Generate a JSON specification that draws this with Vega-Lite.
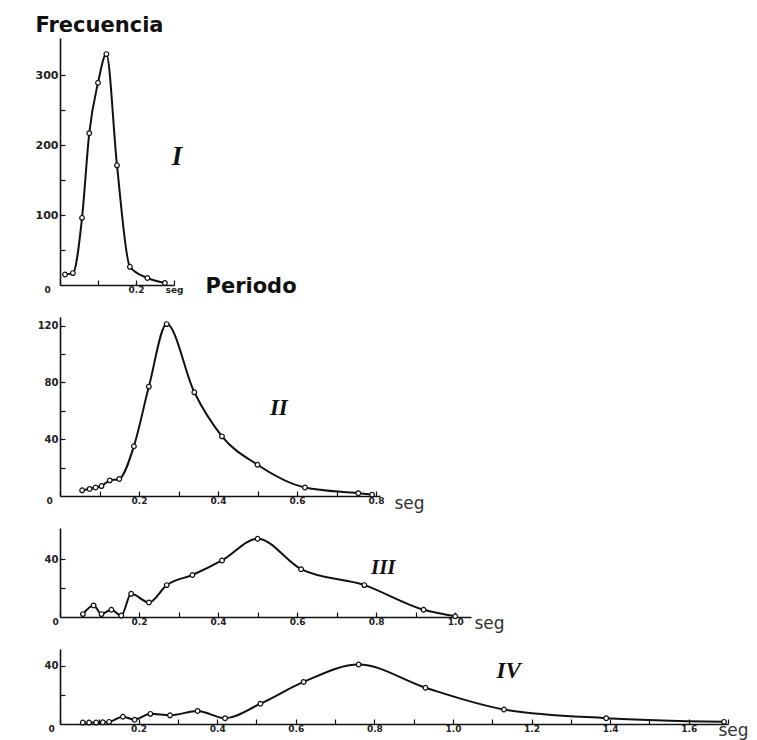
{
  "$schema": "https://vega.github.io/schema/vega-lite/v6.json",
  "background": "white",
  "padding": {"left": 35, "top": 14, "right": 5, "bottom": 5},
  "spacing": 32,
  "bounds": "flush",
  "config": {
    "view": {"stroke": null},
    "axis": {
      "grid": false,
      "tickCount": 100,
      "domainColor": "#111",
      "domainWidth": 1.6,
      "tickColor": "#111",
      "tickWidth": 1.2,
      "tickSize": -5,
      "labelFont": "DejaVu Sans",
      "labelFontWeight": "bold",
      "labelFontSize": 10,
      "labelColor": "#222",
      "labelFlush": false,
      "labelOverlap": false,
      "labelSeparation": 0,
      "labelBound": false,
      "titleFont": "DejaVu Sans",
      "titleColor": "#111"
    },
    "axisX": {"labelPadding": 5, "labelFontSize": 9},
    "axisY": {"labelPadding": 7}
  },
  "vconcat": [
    {
      "width": 114,
      "height": 247,
      "layer": [
        {
          "data": {"values": [
            {"periodo": 0.013, "frecuencia": 15},
            {"periodo": 0.034, "frecuencia": 17},
            {"periodo": 0.058, "frecuencia": 96},
            {"periodo": 0.077, "frecuencia": 217},
            {"periodo": 0.1, "frecuencia": 289},
            {"periodo": 0.122, "frecuencia": 330},
            {"periodo": 0.15, "frecuencia": 171},
            {"periodo": 0.184, "frecuencia": 26},
            {"periodo": 0.23, "frecuencia": 10},
            {"periodo": 0.276, "frecuencia": 3}
          ]},
          "layer": [
            {
              "mark": {"type": "line", "interpolate": "monotone", "color": "#111", "strokeWidth": 2},
              "encoding": {
                "x": {"field": "periodo", "type": "quantitative", "scale": {"domain": [0, 0.3], "nice": false, "zero": false},
                  "axis": {"values": [0, 0.1, 0.2, 0.3], "tickCount": 100,
                    "labelExpr": "datum.value == 0 ? '0' : datum.value > 0.29 ? 'seg' : (datum.value > 0.15 ? '0.2' : '')",
                    "labelOffset": {"condition": {"test": "datum.value == 0", "value": -13}, "value": 0},
                    "title": "Periodo", "titleAngle": 0, "titleX": 145, "titleY": 1, "titleAlign": "left", "titleBaseline": "middle",
                    "titleFontSize": 21, "titleFontWeight": "bold"}},
                "y": {"field": "frecuencia", "type": "quantitative", "scale": {"domain": [0, 353], "nice": false, "zero": false},
                  "axis": {"values": [50, 100, 150, 200, 250, 300], "tickCount": 100, "labelFontSize": 11,
                    "labelExpr": "datum.value == 100 ? '100' : datum.value == 200 ? '200' : datum.value == 300 ? '300' : ''",
                    "title": "Frecuencia", "titleAngle": 0, "titleX": -25, "titleY": -13, "titleAlign": "left", "titleBaseline": "middle",
                    "titleFontSize": 21, "titleFontWeight": "bold"}}
              }
            },
            {
              "mark": {"type": "point", "shape": "circle", "filled": true, "fill": "white", "stroke": "#111", "strokeWidth": 1.2, "size": 22, "opacity": 1},
              "encoding": {
                "x": {"field": "periodo", "type": "quantitative"},
                "y": {"field": "frecuencia", "type": "quantitative"}
              }
            }
          ]
        },
        {
          "data": {"values": [{"periodo": 0.308, "frecuencia": 183, "etiqueta": "I"}]},
          "mark": {"type": "text", "font": "Liberation Serif", "fontStyle": "italic", "fontWeight": "bold", "fontSize": 27, "color": "#111"},
          "encoding": {
            "x": {"field": "periodo", "type": "quantitative"},
            "y": {"field": "frecuencia", "type": "quantitative"},
            "text": {"field": "etiqueta"}
          }
        }
      ]
    },
    {
      "width": 320,
      "height": 179,
      "layer": [
        {
          "data": {"values": [
            {"periodo": 0.056, "frecuencia": 4},
            {"periodo": 0.075, "frecuencia": 5},
            {"periodo": 0.09, "frecuencia": 6},
            {"periodo": 0.105, "frecuencia": 7},
            {"periodo": 0.126, "frecuencia": 11},
            {"periodo": 0.15, "frecuencia": 12},
            {"periodo": 0.187, "frecuencia": 35},
            {"periodo": 0.225, "frecuencia": 77},
            {"periodo": 0.27, "frecuencia": 121},
            {"periodo": 0.34, "frecuencia": 73},
            {"periodo": 0.41, "frecuencia": 42},
            {"periodo": 0.5, "frecuencia": 22},
            {"periodo": 0.62, "frecuencia": 6},
            {"periodo": 0.755, "frecuencia": 2},
            {"periodo": 0.79, "frecuencia": 1}
          ]},
          "layer": [
            {
              "mark": {"type": "line", "interpolate": "monotone", "color": "#111", "strokeWidth": 2},
              "encoding": {
                "x": {"field": "periodo", "type": "quantitative", "scale": {"domain": [0, 0.81], "nice": false, "zero": false},
                  "axis": {"values": [0, 0.1, 0.2, 0.3, 0.4, 0.5, 0.6, 0.7, 0.8], "tickCount": 100,
                    "labelExpr": "datum.value == 0 ? '0' : (round(datum.value * 10) % 2 == 0 ? format(datum.value, '.1f') : '')",
                    "labelOffset": {"condition": {"test": "datum.value == 0", "value": -11}, "value": 0},
                    "title": "seg", "titleAngle": 0, "titleX": 334, "titleY": 7, "titleAlign": "left", "titleBaseline": "middle",
                    "titleFontSize": 17, "titleFontWeight": "normal", "titleColor": "#333"}},
                "y": {"field": "frecuencia", "type": "quantitative", "scale": {"domain": [0, 126], "nice": false, "zero": false},
                  "axis": {"values": [20, 40, 60, 80, 100, 120], "tickCount": 100,
                    "labelExpr": "datum.value == 40 ? '40' : datum.value == 80 ? '80' : datum.value == 120 ? '120' : ''",
                    "title": null}}
              }
            },
            {
              "mark": {"type": "point", "shape": "circle", "filled": true, "fill": "white", "stroke": "#111", "strokeWidth": 1.2, "size": 22, "opacity": 1},
              "encoding": {
                "x": {"field": "periodo", "type": "quantitative"},
                "y": {"field": "frecuencia", "type": "quantitative"}
              }
            }
          ]
        },
        {
          "data": {"values": [{"periodo": 0.554, "frecuencia": 62, "etiqueta": "II"}]},
          "mark": {"type": "text", "font": "Liberation Serif", "fontStyle": "italic", "fontWeight": "bold", "fontSize": 23, "color": "#111"},
          "encoding": {
            "x": {"field": "periodo", "type": "quantitative"},
            "y": {"field": "frecuencia", "type": "quantitative"},
            "text": {"field": "etiqueta"}
          }
        }
      ]
    },
    {
      "width": 411,
      "height": 89,
      "layer": [
        {
          "data": {"values": [
            {"periodo": 0.058, "frecuencia": 2},
            {"periodo": 0.085, "frecuencia": 8},
            {"periodo": 0.105, "frecuencia": 2},
            {"periodo": 0.13, "frecuencia": 5},
            {"periodo": 0.155, "frecuencia": 1},
            {"periodo": 0.18, "frecuencia": 16},
            {"periodo": 0.225, "frecuencia": 10},
            {"periodo": 0.27, "frecuencia": 22},
            {"periodo": 0.335, "frecuencia": 29},
            {"periodo": 0.41, "frecuencia": 39},
            {"periodo": 0.5, "frecuencia": 54},
            {"periodo": 0.61, "frecuencia": 33},
            {"periodo": 0.77, "frecuencia": 22},
            {"periodo": 0.92, "frecuencia": 5},
            {"periodo": 1.0, "frecuencia": 0.5}
          ]},
          "layer": [
            {
              "mark": {"type": "line", "interpolate": "monotone", "color": "#111", "strokeWidth": 2},
              "encoding": {
                "x": {"field": "periodo", "type": "quantitative", "scale": {"domain": [0, 1.04], "nice": false, "zero": false},
                  "axis": {"values": [0, 0.1, 0.2, 0.3, 0.4, 0.5, 0.6, 0.7, 0.8, 0.9, 1.0], "tickCount": 100,
                    "labelExpr": "datum.value == 0 ? '0' : (round(datum.value * 10) % 2 == 0 ? format(datum.value, '.1f') : '')",
                    "labelOffset": {"condition": {"test": "datum.value == 0", "value": -5}, "value": 0},
                    "title": "seg", "titleAngle": 0, "titleX": 414, "titleY": 6, "titleAlign": "left", "titleBaseline": "middle",
                    "titleFontSize": 17, "titleFontWeight": "normal", "titleColor": "#333"}},
                "y": {"field": "frecuencia", "type": "quantitative", "scale": {"domain": [0, 61.4], "nice": false, "zero": false},
                  "axis": {"values": [20, 40], "tickCount": 100,
                    "labelExpr": "datum.value == 40 ? '40' : ''",
                    "title": null}}
              }
            },
            {
              "mark": {"type": "point", "shape": "circle", "filled": true, "fill": "white", "stroke": "#111", "strokeWidth": 1.2, "size": 22, "opacity": 1},
              "encoding": {
                "x": {"field": "periodo", "type": "quantitative"},
                "y": {"field": "frecuencia", "type": "quantitative"}
              }
            }
          ]
        },
        {
          "data": {"values": [{"periodo": 0.818, "frecuencia": 34, "etiqueta": "III"}]},
          "mark": {"type": "text", "font": "Liberation Serif", "fontStyle": "italic", "fontWeight": "bold", "fontSize": 21, "color": "#111"},
          "encoding": {
            "x": {"field": "periodo", "type": "quantitative"},
            "y": {"field": "frecuencia", "type": "quantitative"},
            "text": {"field": "etiqueta"}
          }
        }
      ]
    },
    {
      "width": 668,
      "height": 75,
      "layer": [
        {
          "data": {"values": [
            {"periodo": 0.058, "frecuencia": 1},
            {"periodo": 0.074, "frecuencia": 1},
            {"periodo": 0.092, "frecuencia": 1},
            {"periodo": 0.109, "frecuencia": 1.2},
            {"periodo": 0.125, "frecuencia": 1.5},
            {"periodo": 0.16, "frecuencia": 5},
            {"periodo": 0.19, "frecuencia": 3},
            {"periodo": 0.23, "frecuencia": 7},
            {"periodo": 0.28, "frecuencia": 6},
            {"periodo": 0.35, "frecuencia": 9},
            {"periodo": 0.42, "frecuencia": 4},
            {"periodo": 0.51, "frecuencia": 14},
            {"periodo": 0.62, "frecuencia": 29},
            {"periodo": 0.76, "frecuencia": 41},
            {"periodo": 0.93, "frecuencia": 25},
            {"periodo": 1.13, "frecuencia": 10},
            {"periodo": 1.39, "frecuencia": 4},
            {"periodo": 1.69, "frecuencia": 1.5}
          ]},
          "layer": [
            {
              "mark": {"type": "line", "interpolate": "monotone", "color": "#111", "strokeWidth": 2},
              "encoding": {
                "x": {"field": "periodo", "type": "quantitative", "scale": {"domain": [0, 1.7], "nice": false, "zero": false},
                  "axis": {"values": [0, 0.1, 0.2, 0.3, 0.4, 0.5, 0.6, 0.7, 0.8, 0.9, 1.0, 1.1, 1.2, 1.3, 1.4, 1.5, 1.6, 1.7], "tickCount": 100,
                    "labelExpr": "datum.value == 0 ? '0' : (round(datum.value * 10) % 2 == 0 ? format(datum.value, '.1f') : '')",
                    "labelOffset": {"condition": {"test": "datum.value == 0", "value": -9}, "value": 0},
                    "title": "seg", "titleAngle": 0, "titleX": 658, "titleY": 6, "titleAlign": "left", "titleBaseline": "middle",
                    "titleFontSize": 17, "titleFontWeight": "normal", "titleColor": "#333"}},
                "y": {"field": "frecuencia", "type": "quantitative", "scale": {"domain": [0, 51.7], "nice": false, "zero": false},
                  "axis": {"values": [20, 40], "tickCount": 100,
                    "labelExpr": "datum.value == 40 ? '40' : ''",
                    "title": null}}
              }
            },
            {
              "mark": {"type": "point", "shape": "circle", "filled": true, "fill": "white", "stroke": "#111", "strokeWidth": 1.2, "size": 22, "opacity": 1},
              "encoding": {
                "x": {"field": "periodo", "type": "quantitative"},
                "y": {"field": "frecuencia", "type": "quantitative"}
              }
            }
          ]
        },
        {
          "data": {"values": [{"periodo": 1.142, "frecuencia": 36.5, "etiqueta": "IV"}]},
          "mark": {"type": "text", "font": "Liberation Serif", "fontStyle": "italic", "fontWeight": "bold", "fontSize": 23, "color": "#111"},
          "encoding": {
            "x": {"field": "periodo", "type": "quantitative"},
            "y": {"field": "frecuencia", "type": "quantitative"},
            "text": {"field": "etiqueta"}
          }
        }
      ]
    }
  ]
}
